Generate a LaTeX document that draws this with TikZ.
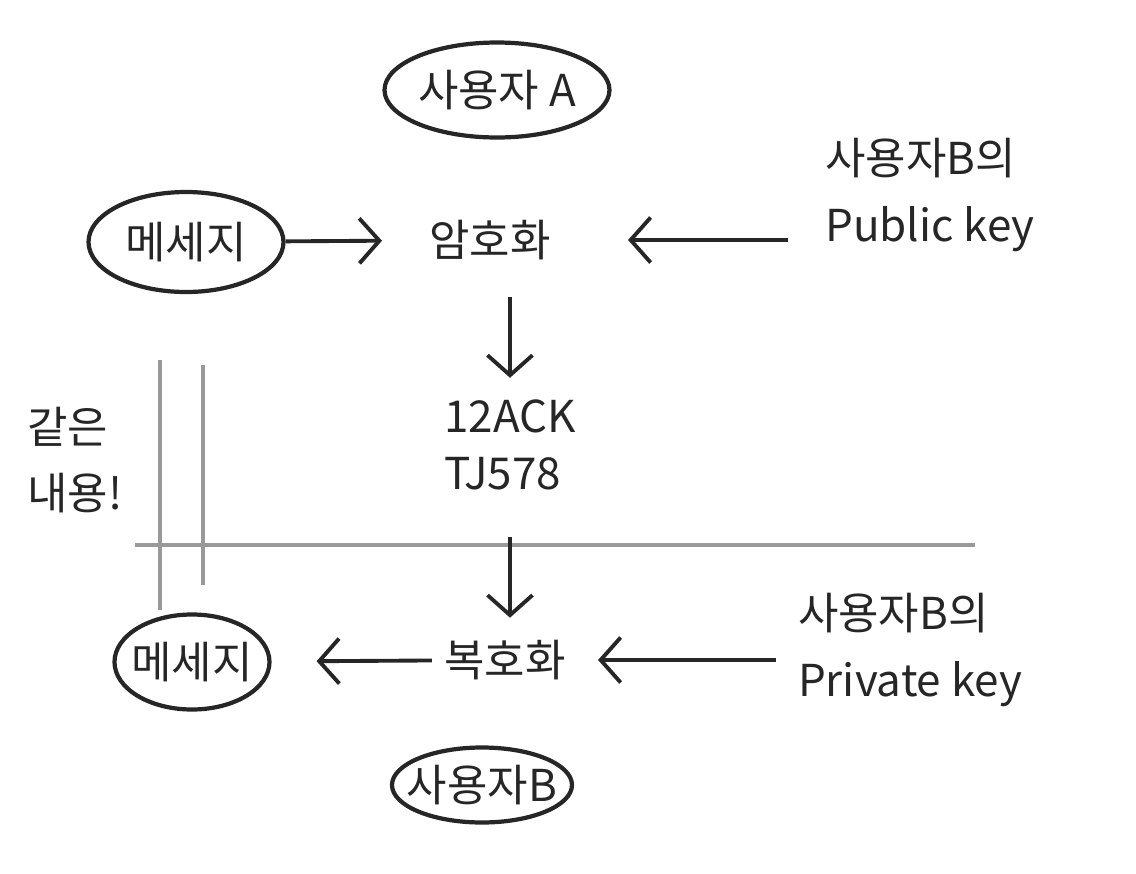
\documentclass[tikz,border=0pt]{standalone}
\usepackage{fontspec}
\setmainfont{Noto Sans CJK KR}
\usepackage{xcolor}
\usepackage{tikz}
\usetikzlibrary{positioning,arrows.meta,shapes.geometric}

\definecolor{pencil}{gray}{0.15}
\definecolor{faint}{gray}{0.6}

\begin{document}
\begin{tikzpicture}[x=1cm, y=1cm, font=\fontsize{12.5}{19}\selectfont, text=pencil,
  bubble/.style={ellipse, draw=pencil, line width=1.2pt, inner sep=-6mm},
  arr/.style={-{Straight Barb[length=2mm,width=4.5mm]}, draw=pencil, line width=1.1pt},
  guide/.style={draw=faint, line width=1.3pt}]
  \useasboundingbox (0,0) rectangle (11.36,-8.74);

  % Sender
  \node[bubble, minimum width=22.5mm, minimum height=9.5mm] (userA) at (4.97,-0.9) {사용자 A};
  \node[bubble, minimum width=19.5mm, minimum height=10mm] (msg1) at (1.86,-2.42) {메세지};
  \node (enc) at (4.9,-2.4) {암호화};
  \node[align=left] (pubkey) at (9.3,-1.95) {사용자B의\\Public key};

  % Cipher text
  \node[align=left, font=\fontsize{12.5}{16}\selectfont] (cipher) at (5.1,-4.45) {12ACK\\TJ578};

  % Same
  \node[align=left] (same) at (0.75,-4.6) {같은\\내용!};

  % Receiver
  \node[bubble, minimum width=15.5mm, minimum height=9.5mm] (msg2) at (1.92,-6.62) {메세지};
  \node (dec) at (5.05,-6.6) {복호화};
  \node[align=left] (privkey) at (9.1,-6.5) {사용자B의\\Private key};
  \node[bubble, minimum width=18mm, minimum height=7.5mm] (userB) at (4.82,-7.85) {사용자B};

  % Guides
  \coordinate (lineL) at (1.35,-5.45);
  \coordinate (lineR) at (9.75,-5.45);
  \coordinate (eqAtop) at (1.6,-3.6);
  \coordinate (eqAbot) at (1.6,-6.1);
  \coordinate (eqBtop) at (2.03,-3.65);
  \coordinate (eqBbot) at (2.03,-5.85);
  \draw[guide] (lineL) -- (lineR);
  \draw[guide] (eqAtop) -- (eqAbot);
  \draw[guide] (eqBtop) -- (eqBbot);

  % Connexions
  \draw[arr, shorten >=3.5mm] (msg1) -- (enc);
  \draw[arr, shorten <=2.5mm, shorten >=6.5mm] (pubkey.west |- enc) -- (enc);
  \draw[arr, shorten <=2.5mm, shorten >=1mm] (cipher |- enc.south) -- (cipher);
  \draw[arr, shorten <=3.5mm, shorten >=1mm] (cipher) -- (cipher |- dec.north);
  \draw[arr, shorten >=4.5mm] (dec) -- (msg2);
  \draw[arr, shorten <=1mm, shorten >=2mm] (privkey.west |- dec) -- (dec);
\end{tikzpicture}
\end{document}
